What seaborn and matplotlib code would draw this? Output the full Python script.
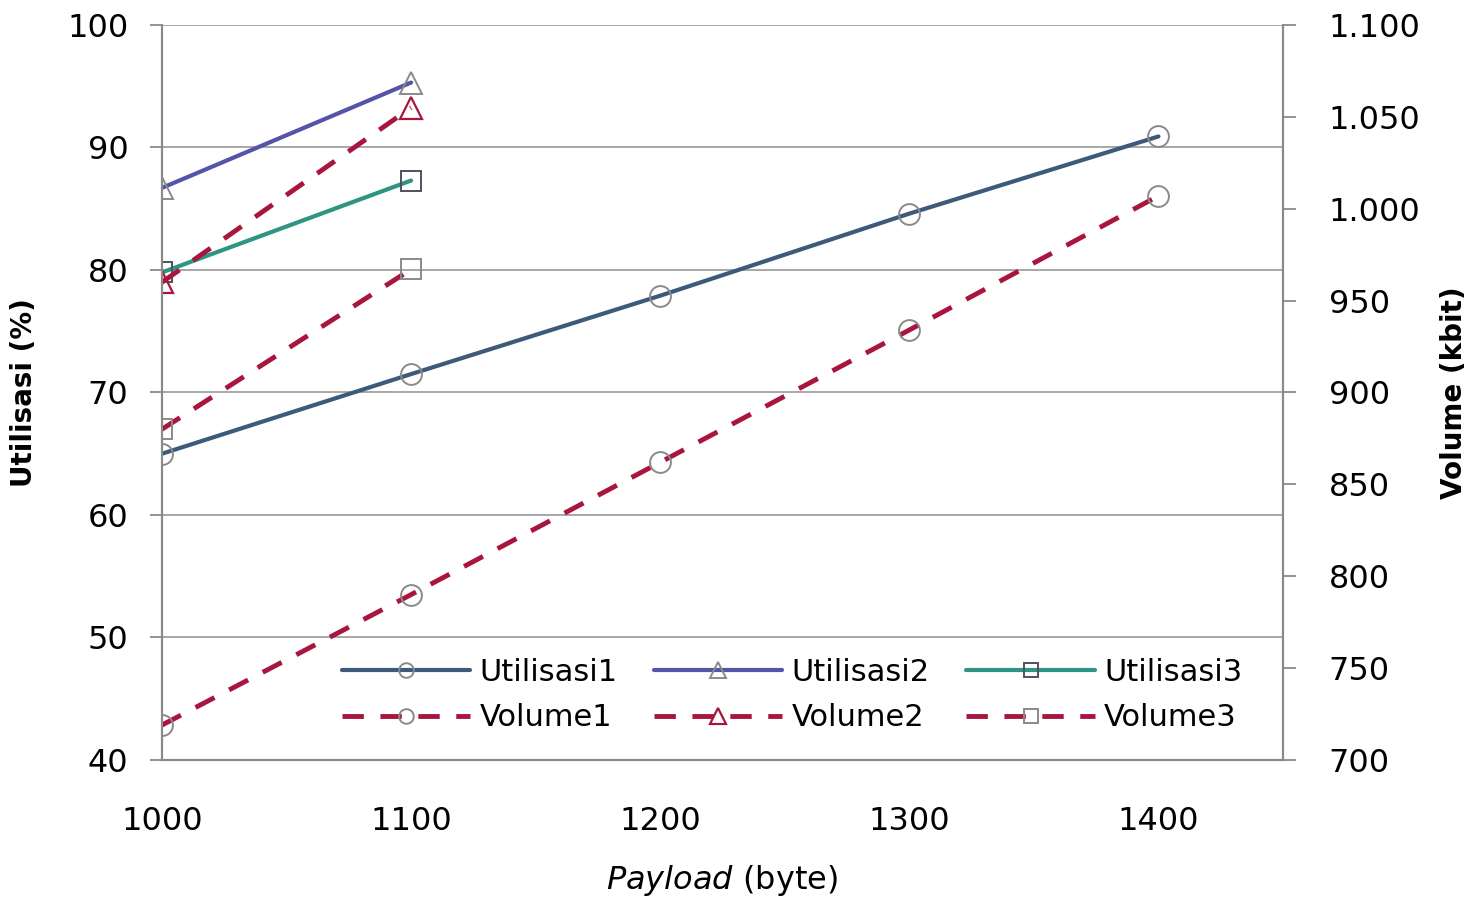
import matplotlib
matplotlib.use("Agg")
import matplotlib.pyplot as plt
import matplotlib.ticker as mticker
import seaborn as sns
import numpy as np
import pandas as pd

# data
payload_long = [1000, 1100, 1200, 1300, 1400]
payload_short = [1000, 1100]
utilisasi1 = [65.0, 71.5, 77.9, 84.6, 90.9]
utilisasi2 = [86.7, 95.3]
utilisasi3 = [79.8, 87.3]
volume1 = [719, 790, 862, 934, 1007]
volume2 = [960, 1055]
volume3 = [880, 967]

sns.set_theme(style="white")
plt.rcParams['font.family'] = ['DejaVu Sans']
plt.rcParams['mathtext.fontset'] = 'dejavusans'
plt.rcParams['text.color'] = 'black'
plt.rcParams['axes.labelcolor'] = 'black'

fig = plt.figure(figsize=(14.79, 9.01), dpi=100)
ax = fig.add_axes([0.1095, 0.1565, 0.758, 0.8158])
ax2 = ax.twinx()

grey = "#8a8a8a"
dash = (0, (4.4, 3.4))

# Utilisasi on the left axis
sns.lineplot(x=payload_long, y=utilisasi1, ax=ax, color="#3d5a7a", lw=3.0,
             marker="o", markersize=15, markerfacecolor="none",
             markeredgecolor=grey, markeredgewidth=1.4, label="Utilisasi1")
sns.lineplot(x=payload_short, y=utilisasi2, ax=ax, color="#5454a8", lw=3.0,
             marker="^", markersize=16, markerfacecolor="none",
             markeredgecolor=grey, markeredgewidth=1.4, label="Utilisasi2")
sns.lineplot(x=payload_short, y=utilisasi3, ax=ax, color="#2e9484", lw=3.0,
             marker="s", markersize=15, markerfacecolor="none",
             markeredgecolor="#505060", markeredgewidth=1.4, label="Utilisasi3")

# Volume on the right axis
sns.lineplot(x=payload_long, y=volume1, ax=ax2, color="#a8163e", lw=3.5, ls=dash,
             marker="o", markersize=15, markerfacecolor="none",
             markeredgecolor=grey, markeredgewidth=1.4, label="Volume1")
sns.lineplot(x=payload_short, y=volume2, ax=ax2, color="#a8163e", lw=3.5, ls=dash,
             marker="^", markersize=16, markerfacecolor="none",
             markeredgecolor="#a8163e", markeredgewidth=1.6, label="Volume2")
sns.lineplot(x=payload_short, y=volume3, ax=ax2, color="#a8163e", lw=3.5, ls=dash,
             marker="s", markersize=15, markerfacecolor="none",
             markeredgecolor=grey, markeredgewidth=1.4, label="Volume3")

ax.set_xlim(1000, 1450)
ax.set_ylim(40, 100)
ax2.set_ylim(700, 1100)
ax.set_yticks(np.arange(40, 101, 10))
ax2.set_yticks(np.arange(700, 1101, 50))
ax.set_xticks(np.arange(1000, 1451, 50))
ax.set_xticklabels([str(v) if v % 100 == 0 else "" for v in range(1000, 1451, 50)])
ax2.yaxis.set_major_formatter(mticker.FuncFormatter(lambda v, p: f"{v:,.0f}".replace(",", ".")))

ax.yaxis.grid(True, color="#a0a0a0", lw=1.3)
ax.xaxis.grid(False)
for a in (ax, ax2):
    for s in a.spines.values():
        s.set_color(grey)
        s.set_linewidth(1.5)
    a.tick_params(direction="out", length=9, width=1.3, color=grey,
                  labelsize=23, labelcolor="black")
ax.tick_params(axis="y", pad=15)
ax.tick_params(axis="x", pad=24)
ax2.tick_params(axis="y", pad=24)
ax.spines["top"].set_visible(False)
ax2.spines["top"].set_visible(False)

ax.set_ylabel("Utilisasi (%)", fontsize=20, fontweight="bold", labelpad=21)
ax2.set_ylabel("Volume (kbit)", fontsize=20, fontweight="bold", labelpad=14)
ax.set_xlabel(r"$\mathit{Payload}$ (byte)", fontsize=23, labelpad=19)

h1, l1 = ax.get_legend_handles_labels()
h2, l2 = ax2.get_legend_handles_labels()
ax.get_legend().remove()
ax2.get_legend().remove()
handles = [h1[0], h2[0], h1[1], h2[1], h1[2], h2[2]]
labels = [l1[0], l2[0], l1[1], l2[1], l1[2], l2[2]]
ax2.legend(handles, labels, ncol=3, loc="lower center", bbox_to_anchor=(0.562, 0.0),
           frameon=False, fontsize=22, handlelength=4.2, columnspacing=1.2,
           handletextpad=0.3, labelspacing=0.55, markerscale=0.7)

fig.savefig("out.png", dpi=100)
